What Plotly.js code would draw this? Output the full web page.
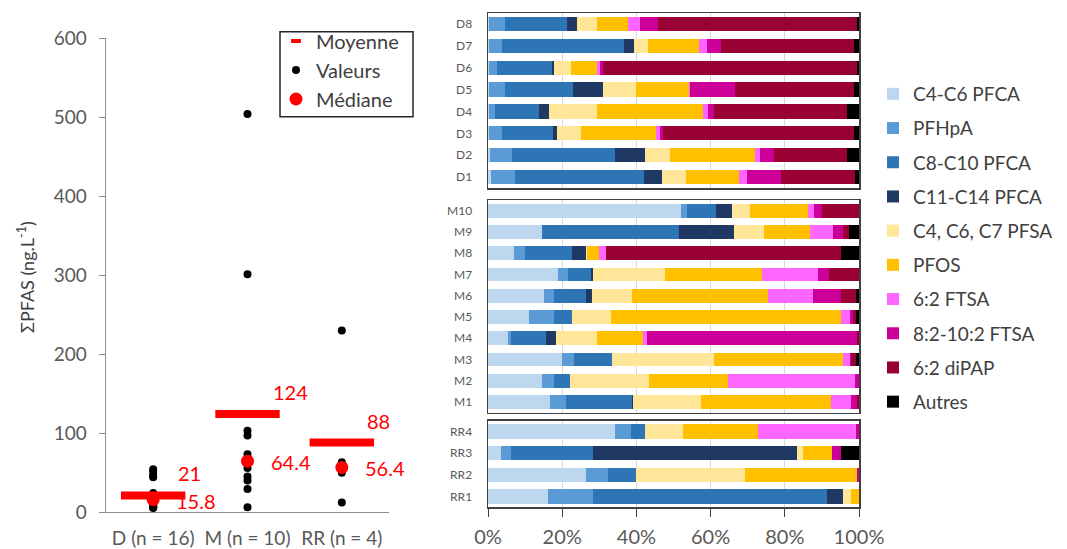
<!DOCTYPE html>
<html>
<head>
<meta charset="utf-8">
<script src="https://cdn.plot.ly/plotly-3.0.1.min.js"></script>
<style>html,body{margin:0;padding:0;background:#fff;}#chart{width:1067px;height:549px;}</style>
</head>
<body>
<div id="chart"></div>
<script>
// ---------- Left chart data ----------
const groupCategories = ["D (n = 16)", "M (n = 10)", "RR (n = 4)"];
const valuesD = [54, 51, 47, 44, 24, 20, 17, 16.4, 15.2, 9, 8, 7, 6.4, 6, 6, 5];
const valuesM = [504, 301, 103, 97, 73, 55.8, 45, 40, 29, 6];
const valuesRR = [230, 63, 49.8, 12];
const means = [21, 124, 88];
const medians = [15.8, 64.4, 56.4];

// ---------- Right chart data (% composition) ----------
const seriesNames = ["C4-C6 PFCA", "PFHpA", "C8-C10 PFCA", "C11-C14 PFCA", "C4, C6, C7 PFSA",
                     "PFOS", "6:2 FTSA", "8:2-10:2 FTSA", "6:2 diPAP", "Autres"];
const seriesColors = ["#BDD7EE", "#5B9BD5", "#2E75B6", "#203864", "#FFE699",
                      "#FFC000", "#FF66FF", "#CC0099", "#990033", "#000000"];

const dLabels = ["D1", "D2", "D3", "D4", "D5", "D6", "D7", "D8"];
const dRows = [
  [0.7, 6.5, 34.8, 4.8, 6.5, 14.3, 2.1, 9.4, 19.9, 1.0],
  [0.5, 6.1, 27.7, 8.1, 6.6, 22.9, 1.5, 3.8, 19.6, 3.2],
  [0.3, 3.6, 13.6, 1.1, 6.5, 20.2, 1.1, 0.9, 51.3, 1.4],
  [0.3, 1.5, 12.0, 2.7, 13.0, 28.4, 1.4, 1.7, 35.8, 3.2],
  [0.3, 4.2, 18.4, 8.1, 8.8, 14.3, 0.4, 12.0, 32.1, 1.4],
  [0.3, 2.1, 14.9, 0.6, 4.5, 7.1, 0.6, 0.9, 68.5, 0.5],
  [0.3, 3.6, 32.7, 2.7, 3.7, 13.8, 2.1, 3.8, 35.9, 1.4],
  [0.3, 4.2, 16.8, 2.8, 5.4, 8.1, 3.4, 4.8, 53.7, 0.5]
];

const mLabels = ["M1", "M2", "M3", "M4", "M5", "M6", "M7", "M8", "M9", "M10"];
const mRows = [
  [16.6, 4.3, 17.9, 0.4, 18.3, 34.9, 5.4, 1.7, 0.5, 0],
  [14.5, 3.3, 4.4, 0, 21.1, 21.3, 34.2, 1.2, 0, 0],
  [19.9, 3.3, 10.3, 0, 27.3, 34.8, 2.0, 0.3, 1.4, 0.7],
  [5.3, 1.0, 9.4, 2.7, 10.9, 12.4, 1.1, 56.7, 0.5, 0],
  [11.1, 6.7, 4.8, 0, 10.5, 62.0, 2.5, 0.8, 0.8, 0.8],
  [15.0, 2.8, 8.7, 1.6, 10.8, 36.6, 12.0, 7.6, 4.2, 0.7],
  [18.8, 2.8, 6.1, 0.5, 19.4, 26.2, 15.2, 2.8, 8.2, 0],
  [6.9, 3.2, 12.5, 3.8, 0.3, 3.1, 2.1, 0, 63.3, 4.8],
  [14.5, 0, 37.1, 14.6, 8.2, 12.4, 6.1, 2.7, 1.6, 2.8],
  [52.1, 1.6, 7.7, 4.3, 4.8, 15.8, 1.7, 2.1, 9.9, 0]
];

const rrLabels = ["RR1", "RR2", "RR3", "RR4"];
const rrRows = [
  [16.1, 12.1, 63.1, 4.3, 2.2, 2.2, 0, 0, 0, 0],
  [26.5, 5.9, 7.5, 0, 29.5, 30.1, 0, 0.5, 0, 0],
  [3.6, 2.7, 21.9, 55.0, 1.6, 8.0, 0, 2.3, 0, 4.9],
  [34.2, 4.3, 3.7, 0, 10.3, 20.2, 26.6, 0.7, 0, 0]
];

const pctTicks = [0, 20, 40, 60, 80, 100];

// ---------- Build traces ----------
const FONT = "Lato, 'Liberation Sans', sans-serif";
const traces = [];

const allX = [], allY = [];
[valuesD, valuesM, valuesRR].forEach((vals, i) => {
  vals.forEach(v => { allX.push(groupCategories[i]); allY.push(v); });
});

traces.push({
  type: "scatter", mode: "markers", name: "Valeurs",
  x: allX, y: allY, xaxis: "x", yaxis: "y",
  marker: { color: "#000000", size: 8 },
  legend: "legend", legendrank: 2
});
// mean bars (drawn) - legend entry given by a separate empty legend-only trace
traces.push({
  type: "scatter", mode: "markers", name: "Moyenne",
  x: groupCategories, y: means, xaxis: "x", yaxis: "y",
  marker: { symbol: "line-ew", size: 46, color: "#FF0000", line: { color: "#FF0000", width: 8 } },
  showlegend: false
});
traces.push({
  type: "scatter", mode: "markers", name: "Moyenne",
  x: [null], y: [null], xaxis: "x", yaxis: "y",
  marker: { symbol: "line-ew", size: 7, color: "#FF0000", line: { color: "#FF0000", width: 4 } },
  legend: "legend", legendrank: 1
});
traces.push({
  type: "scatter", mode: "markers", name: "Médiane",
  x: groupCategories, y: medians, xaxis: "x", yaxis: "y",
  marker: { color: "#FF0000", size: 13 },
  legend: "legend", legendrank: 3
});

const panels = [
  { labels: dLabels, rows: dRows, xa: "x2", ya: "y2" },
  { labels: mLabels, rows: mRows, xa: "x3", ya: "y3" },
  { labels: rrLabels, rows: rrRows, xa: "x4", ya: "y4" }
];
seriesNames.forEach((name, s) => {
  panels.forEach((p, pi) => {
    traces.push({
      type: "bar", orientation: "h", name: name,
      y: p.labels, x: p.rows.map(r => r[s]),
      xaxis: p.xa, yaxis: p.ya,
      marker: { color: seriesColors[s], line: { width: 0 } },
      legend: "legend2", legendgroup: name, showlegend: pi === 0
    });
  });
});

// ---------- Annotations ----------
const annotations = [];
groupCategories.forEach((c, i) => {
  annotations.push({ xref: "x", yref: "y", x: c, y: means[i], text: String(means[i]),
    showarrow: false, xanchor: "left", yanchor: "middle", xshift: 23, yshift: 22,
    font: { family: FONT, size: 20, color: "#FF0000" } });
  annotations.push({ xref: "x", yref: "y", x: c, y: medians[i], text: String(medians[i]),
    showarrow: false, xanchor: "left", yanchor: "middle", xshift: 21, yshift: -1,
    font: { family: FONT, size: 20, color: "#FF0000" } });
});
annotations.push({ xref: "paper", yref: "paper", x: 26 / 1067, y: 1 - 277 / 549,
  text: "ΣPFAS (ng.L<sup>-1</sup>)", textangle: -90, showarrow: false,
  xanchor: "center", yanchor: "middle", font: { family: FONT, size: 18, color: "#404040" } });

const barX = [488 / 1067, 859 / 1067];
const panelXAxis = (anchor, showLabels) => ({
  domain: barX, anchor: anchor, range: [0, 100], fixedrange: true,
  showline: true, mirror: true, linecolor: "#404040", linewidth: 1.5,
  showgrid: true, gridcolor: "#D9D9D9", gridwidth: 1, zeroline: false,
  tickmode: "array", tickvals: pctTicks, ticktext: pctTicks.map(v => v + "%"),
  showticklabels: showLabels, ticks: showLabels ? "outside" : "", ticklen: 8, tickcolor: "#404040",
  ticklabelstandoff: 3,
  tickfont: { family: FONT, size: 20, color: "#595959" }
});
const panelYAxis = (anchor, dom, n) => ({
  domain: dom, anchor: anchor, type: "category", range: [-0.5, n - 0.5], fixedrange: true,
  showline: true, mirror: true, linecolor: "#404040", linewidth: 1.5,
  showgrid: false, zeroline: false, ticks: "", ticklabelstandoff: 12,
  tickfont: { family: FONT, size: 12, color: "#595959" }
});

const layout = {
  width: 1067, height: 549,
  margin: { l: 0, r: 0, t: 0, b: 0 },
  paper_bgcolor: "#FFFFFF", plot_bgcolor: "rgba(0,0,0,0)",
  barmode: "stack", bargap: 0.35,
  font: { family: FONT, color: "#595959" },
  xaxis: {
    domain: [106 / 1067, 389 / 1067], anchor: "y", type: "category",
    range: [-0.5, 2.5], fixedrange: true,
    showline: true, linecolor: "#8C8C8C", linewidth: 1.3,
    showgrid: false, zeroline: false, ticks: "", ticklabelstandoff: 9,
    tickfont: { family: FONT, size: 19, color: "#595959" }
  },
  yaxis: {
    domain: [1 - 512 / 549, 1 - 38.3 / 549], anchor: "x", range: [0, 600], dtick: 100,
    fixedrange: true, showline: true, linecolor: "#8C8C8C", linewidth: 1.3,
    ticks: "outside", ticklen: 6, tickcolor: "#8C8C8C", showgrid: false, zeroline: false,
    ticklabelstandoff: 8,
    tickfont: { family: FONT, size: 19, color: "#595959" }
  },
  xaxis2: panelXAxis("y2", false),
  yaxis2: panelYAxis("x2", [1 - 188 / 549, 1 - 13 / 549], dLabels.length),
  xaxis3: panelXAxis("y3", false),
  yaxis3: panelYAxis("x3", [1 - 412.7 / 549, 1 - 200 / 549], mLabels.length),
  xaxis4: panelXAxis("y4", true),
  yaxis4: panelYAxis("x4", [1 - 507.3 / 549, 1 - 420.7 / 549], rrLabels.length),
  legend: {
    x: 276 / 1067, y: 1 - 21.5 / 549, xanchor: "left", yanchor: "top",
    bgcolor: "rgba(0,0,0,0)", borderwidth: 0,
    font: { family: FONT, size: 20, color: "#404040" },
    traceorder: "normal", itemwidth: 30
  },
  legend2: {
    x: 873 / 1067, y: 1 - 75 / 549, xanchor: "left", yanchor: "top",
    bgcolor: "rgba(0,0,0,0)", borderwidth: 0,
    font: { family: FONT, size: 19, color: "#404040" },
    traceorder: "grouped", tracegroupgap: 6.5, itemwidth: 30
  },
  shapes: [{
    type: "rect", xref: "paper", yref: "paper", layer: "above",
    x0: 280 / 1067, x1: 413 / 1067, y0: 1 - 116.7 / 549, y1: 1 - 31.7 / 549,
    line: { color: "#262626", width: 1.5 }, fillcolor: "rgba(0,0,0,0)"
  }],
  annotations: annotations,
  showlegend: true
};

Plotly.newPlot("chart", traces, layout, { displayModeBar: false, staticPlot: true });
</script>
</body>
</html>
